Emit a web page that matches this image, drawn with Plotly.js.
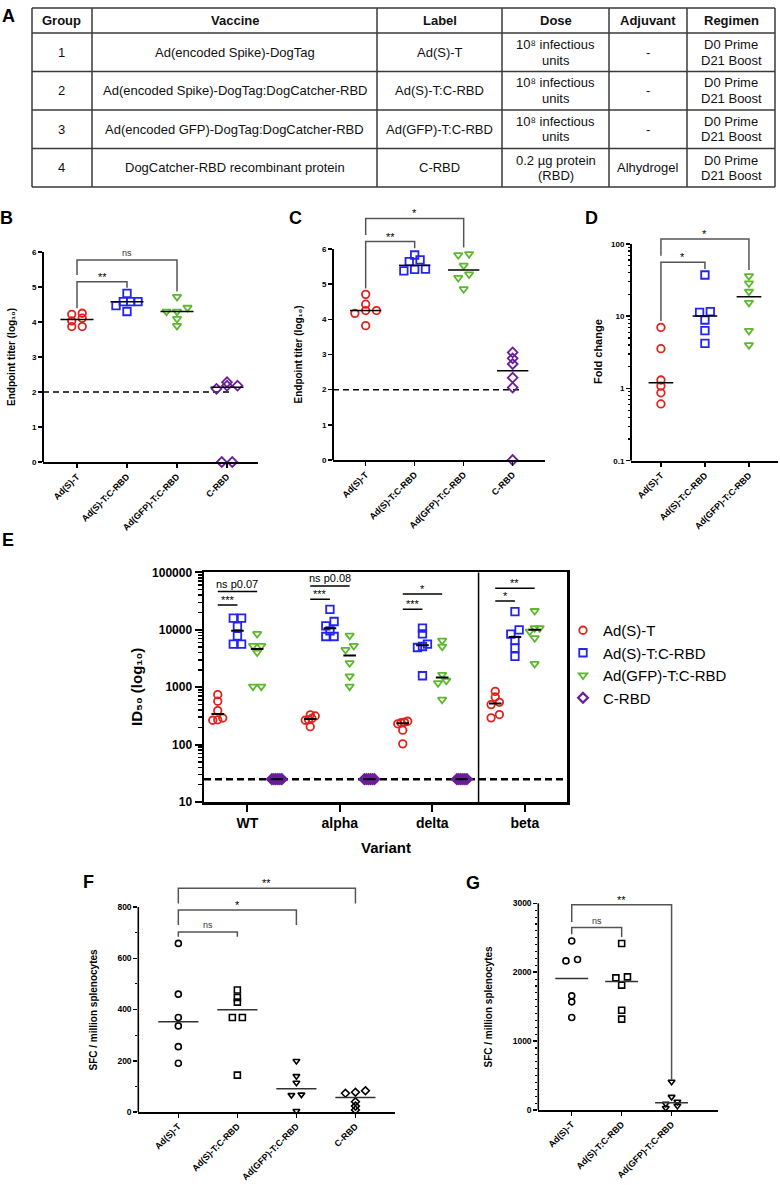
<!DOCTYPE html>
<html><head><meta charset="utf-8">
<script src="https://cdn.plot.ly/plotly-3.0.1.min.js"></script>
<style>html,body{margin:0;padding:0;background:#fff}#chart{width:780px;height:1185px}</style>
</head><body><div id="chart"></div>
<script>
// ================= DATA =================
// Table A
const tableHeader = ['Group','Vaccine','Label','Dose','Adjuvant','Regimen'];
const groupNo = ['1','2','3','4'];
const vaccine = ['Ad(encoded Spike)-DogTag','Ad(encoded Spike)-DogTag:DogCatcher-RBD','Ad(encoded GFP)-DogTag:DogCatcher-RBD','DogCatcher-RBD recombinant protein'];
const vaccineLabel = ['Ad(S)-T','Ad(S)-T:C-RBD','Ad(GFP)-T:C-RBD','C-RBD'];
const dose = ['10⁸ infectious<br>units','10⁸ infectious<br>units','10⁸ infectious<br>units','0.2 µg protein<br>(RBD)'];
const adjuvant = ['-','-','-','Alhydrogel'];
const regimen = ['D0 Prime<br>D21 Boost','D0 Prime<br>D21 Boost','D0 Prime<br>D21 Boost','D0 Prime<br>D21 Boost'];

// categories
const groups = ['Ad(S)-T','Ad(S)-T:C-RBD','Ad(GFP)-T:C-RBD','C-RBD'];
const variants = ['WT','alpha','delta','beta'];

// B: endpoint titer (log10)
const bAdST     = [4.11, 4.22, 4.25, 3.87, 3.87, 4.03];
const bAdSTCRBD = [4.82, 4.58, 4.58, 4.58, 4.47, 4.30];
const bAdGFP    = [4.72, 4.41, 4.30, 4.30, 4.09, 3.89];
const bCRBD     = [2.18, 2.18, 2.28, 2.09, 0, 0];
// C: endpoint titer (log10)
const cAdST     = [4.71, 4.43, 4.25, 4.25, 4.17, 3.82];
const cAdSTCRBD = [5.83, 5.69, 5.64, 5.43, 5.42, 5.38];
const cAdGFP    = [5.86, 5.83, 5.53, 5.28, 5.18, 4.86];
const cCRBD     = [3.06, 2.89, 2.73, 2.34, 2.06, 0];
// D: fold change
const dAdST     = [7.0, 3.55, 1.31, 1.08, 0.87, 0.61];
const dAdSTCRBD = [37.2, 11.6, 11.3, 8.86, 6.3, 4.22];
const dAdGFP    = [36, 28.5, 21.9, 15.4, 6.3, 4.0];
// E: ID50 per variant [WT, alpha, delta, beta]
const eAdST     = [[741,568,390,290,270,265],[330,315,285,270,265,205],[255,245,240,230,178,103],[845,676,545,497,333,292]];
const eAdSTCRBD = [[15900,15900,11400,7840,5630,5630],[22700,13900,11700,9550,7620,7620],[10700,8490,5630,5100,4900,1580],[20700,9960,8400,6500,4790,3430]];
const eAdGFP    = [[8490,5250,5250,4030,1030,1030],[7940,5250,4470,2630,1550,1030],[6500,5100,1650,1300,1180,607],[21300,10700,10700,9340,7150,2560]];
const eCRBD     = [[25,25,25,25,25,25],[25,25,25,25,25,25],[25,25,25,25,25,25],[]];
const eLOD = 25;
const eTickVals = [10,100,1000,10000,100000];
const eTickText = ['10','100','1000','10000','100000'];
// F: SFC / million splenocytes
const fAdST     = [658, 460, 369, 336, 255, 190];
const fAdSTCRBD = [476, 447, 429, 369, 369, 144];
const fAdGFP    = [199, 140, 114, 68, 66, 4];
const fCRBD     = [83, 77, 73, 40, 23, 8];
// G: SFC / million splenocytes
const gAdST     = [2454, 2184, 2164, 1657, 1570, 1343];
const gAdSTCRBD = [2416, 1932, 1918, 1812, 1449, 1319];
const gAdGFP    = [410, 190, 120, 90, 60, 30];

// ================= STYLE / LAYOUT =================
const W = 780, H = 1185;
const FONT = 'Liberation Sans, Arial, Helvetica, sans-serif';
const colors = ['#e3211c','#2424f2','#5db82e','#6a1d9c'];
const symbols = ['circle-open','square-open','triangle-down-open','diamond-open'];

const traces = [], shapes = [], annotations = [];
const layout = {
  width: W, height: H, margin: {l:0, r:0, t:0, b:0},
  paper_bgcolor: '#fff', plot_bgcolor: 'rgba(0,0,0,0)',
  font: {family: FONT, color: '#000', size: 10},
  showlegend: true,
  legend: {x: 563/W, y: 1-614/H, xanchor: 'left', yanchor: 'top', font: {size: 15, family: FONT, color:'#000'},
           bgcolor: 'rgba(0,0,0,0)', borderwidth: 0, tracegroupgap: 0},
  shapes, annotations
};

function ann(text, xpx, ypx, size, extra) {
  return Object.assign({xref:'paper', yref:'paper', x: xpx/W, y: 1-ypx/H, text, showarrow:false,
    xanchor:'center', yanchor:'middle', font:{size, color:'#000', family: FONT}}, extra || {});
}
function median(a){const s=[...a].sort((x,y)=>x-y);const n=s.length;return n%2?s[(n-1)/2]:(s[n/2-1]+s[n/2])/2;}
function logMinor(a,b){const r=[];for(let e=a;e<b;e++)for(let k=2;k<=9;k++)r.push(k*Math.pow(10,e));return r;}
function linMinor(step,max,major){const r=[];for(let v=step;v<max;v+=step) if(v%major) r.push(v);return r;}

// symmetric row-based scatter (GraphPad-like) offsets, in category units
function swarm(vals, yToPx, markerPx, stepPx, maxHalfPx, unitPx) {
  const idx = vals.map((v,i)=>i).sort((a,b)=>yToPx(vals[a])-yToPx(vals[b]));
  const off = new Array(vals.length).fill(0);
  let i = 0;
  while (i < idx.length) {
    const start = yToPx(vals[idx[i]]);
    let j = i+1;
    while (j < idx.length && Math.abs(yToPx(vals[idx[j]])-start) < 0.6*markerPx) j++;
    const n = j-i;
    if (n > 1) {
      const st = Math.min(stepPx, 2*maxHalfPx/(n-1));
      for (let k=0;k<n;k++) off[idx[i+k]] = (k-(n-1)/2)*st/unitPx;
    }
    i = j;
  }
  return off;
}

function buildPanel(p) {
  const xid = 'x'+p.n, yid = 'y'+p.n;
  const xd = [p.xpx[0]/W, p.xpx[1]/W];
  const yd = [1-p.ypx[0]/H, 1-p.ypx[1]/H];
  const unitPx = (p.xpx[1]-p.xpx[0])/(p.xr[1]-p.xr[0]);
  const ppu = (p.ypx[0]-p.ypx[1])/(p.yr[1]-p.yr[0]);
  const tr = v => p.log ? Math.log10(v) : v;
  const yToPx = v => tr(Math.max(v, 1e-9))*ppu;
  const tickFontX = {size: p.xFont, family: FONT, color:'#000', weight: 700};
  const tickFontY = {size: p.yFont, family: FONT, color:'#000', weight: 700};
  layout['xaxis'+p.n] = {domain: xd, range: p.xr, anchor: yid, tickmode:'array',
    tickvals: p.series.map((s,i)=>i), ticktext: groups.slice(0, p.series.length), tickangle: -45,
    ticks:'outside', ticklen: 4, tickwidth: 1.5, tickcolor:'#000', showline: true, linewidth: p.lw, linecolor:'#000',
    showgrid:false, zeroline:false, tickfont: tickFontX, fixedrange:true};
  const ya = {domain: yd, range: p.yr, anchor: xid, type: p.log ? 'log' : 'linear', tickmode:'array',
    tickvals: p.yt, ticktext: p.ytt || p.yt.map(String), ticks:'outside', ticklen: 4, tickwidth: 1.5, tickcolor:'#000',
    showline:false, showgrid:false, zeroline:false, tickfont: tickFontY, fixedrange:true};
  if (p.minor) ya.minor = {tickmode:'array', tickvals: p.minor, ticks:'outside', ticklen: 2.5, tickwidth: 1.2, tickcolor:'#000', showgrid:false};
  layout['yaxis'+p.n] = ya;
  // y axis line (stops at the top tick)
  shapes.push({type:'line', xref:'paper', yref: yid, x0: xd[0], x1: xd[0],
    y0: p.log ? Math.pow(10, p.yr[0]) : p.yr[0], y1: p.ytop, line:{color:'#000', width: p.lw}});
  // dashed limit line
  if (p.dash) traces.push({type:'scatter', mode:'lines', xaxis:xid, yaxis:yid, x:[p.xr[0], p.dash.x1], y:[p.dash.y, p.dash.y],
    line:{color:'#000', width:1.5, dash:'6px,4px'}, showlegend:false, hoverinfo:'skip'});
  // points
  const meds = [];
  p.series.forEach((vals, i) => {
    const col = p.mono ? '#000' : colors[i];
    const off = swarm(vals, yToPx, p.ms, p.step, p.maxHalf, unitPx);
    traces.push({type:'scatter', mode:'markers', xaxis:xid, yaxis:yid, x: vals.map((v,k)=>i+off[k]), y: vals,
      marker:{symbol: symbols[i], size: p.ms, color: col, line:{width: p.mlw, color: col}},
      cliponaxis:false, showlegend:false, hoverinfo:'skip'});
    const m = median(vals);
    meds.push({type:'scatter', mode:'lines', xaxis:xid, yaxis:yid, x:[i-p.medHalf, i+p.medHalf], y:[m, m],
      line:{color: p.medColor, width: 1.5}, showlegend:false, hoverinfo:'skip'});
  });
  meds.forEach(t => traces.push(t));
  // significance brackets
  p.br.forEach(b => {
    traces.push({type:'scatter', mode:'lines', xaxis:xid, yaxis:yid, x:[b.a, b.a, b.b, b.b], y:[b.da, b.y, b.y, b.db],
      line:{color:'#555', width:1.5}, showlegend:false, hoverinfo:'skip'});
    const isStar = b.t.indexOf('*') >= 0;
    const offPx = isStar ? 5 : 7;
    annotations.push({xref:xid, yref:yid, x:(b.a+b.b)/2, y: tr(b.y) + offPx/ppu, text: b.t, showarrow:false,
      xanchor:'center', yanchor:'middle', font:{size: isStar ? 11 : 9, color: isStar ? '#000' : '#333', family: FONT}});
  });
}

// ---- Panel B ----
buildPanel({n:'', xpx:[43,258], xr:[-0.68,3.62], ypx:[462,252], yr:[0,6], log:false, yt:[0,1,2,3,4,5,6], ytop:6,
  series:[bAdST,bAdSTCRBD,bAdGFP,bCRBD], ms:7.5, mlw:1.8, step:10.5, maxHalf:11, medHalf:0.33, medColor:'#000',
  lw:2, xFont:9, yFont:8, dash:{y:2, x1:3.05},
  br:[{a:0,b:2,y:5.77,da:5.34,db:4.87,t:'ns'},{a:0,b:1,y:5.15,da:4.39,db:4.98,t:'**'}]});
// ---- Panel C ----
buildPanel({n:2, xpx:[333,545], xr:[-0.667,3.66], ypx:[460,206.8], yr:[0,7.2], log:false, yt:[0,1,2,3,4,5,6], ytop:6,
  series:[cAdST,cAdSTCRBD,cAdGFP,cCRBD], ms:7.5, mlw:1.8, step:10.8, maxHalf:11, medHalf:0.32, medColor:'#000',
  lw:2, xFont:9, yFont:8, dash:{y:2, x1:3.19},
  br:[{a:0,b:2,y:6.87,da:6.40,db:6.04,t:'*'},{a:0,b:1,y:6.21,da:4.88,db:6.02,t:'**'}]});
// ---- Panel D ----
buildPanel({n:3, xpx:[631,778], xr:[-0.68,2.66], ypx:[460.7,225.9], yr:[-1,2.25], log:true,
  yt:[0.1,1,10,100], ytt:['0.1','1','10','100'], ytop:100, minor: logMinor(-1,2),
  series:[dAdST,dAdSTCRBD,dAdGFP], ms:7.5, mlw:1.8, step:10.7, maxHalf:11, medHalf:0.28, medColor:'#000',
  lw:2, xFont:9, yFont:8, dash:null,
  br:[{a:0,b:2,y:117,da:68.9,db:43.7,t:'*'},{a:0,b:1,y:55.8,da:8.57,db:45.1,t:'*'}]});
// ---- Panel F ----
buildPanel({n:5, xpx:[138.3,395], xr:[-0.678,3.67], ypx:[1112,881.4], yr:[0,900], log:false,
  yt:[0,200,400,600,800], ytop:800, minor: linMinor(100,800,200), mono:true,
  series:[fAdST,fAdSTCRBD,fAdGFP,fCRBD], ms:6, mlw:1.6, step:10, maxHalf:10, medHalf:0.34, medColor:'#333',
  lw:1.6, xFont:9, yFont:8.5, dash:null,
  br:[{a:0,b:3,y:873,da:814,db:814,t:'**'},{a:0,b:2,y:788,da:730,db:730,t:'*'},{a:0,b:1,y:703,da:684,db:684,t:'ns'}]});
// ---- Panel G ----
buildPanel({n:6, xpx:[538.3,718], xr:[-0.67,2.93], ypx:[1110,893], yr:[0,3150], log:false,
  yt:[0,1000,2000,3000], ytop:3000, minor: linMinor(100,3000,1000), mono:true,
  series:[gAdST,gAdSTCRBD,gAdGFP], ms:6, mlw:1.6, step:11.6, maxHalf:11, medHalf:0.33, medColor:'#333',
  lw:1.6, xFont:9, yFont:8.5, dash:null,
  br:[{a:0,b:2,y:2981,da:2729,db:435,t:'**'},{a:0,b:1,y:2648,da:2551,db:2512,t:'ns'}]});

// ---- Panel E (neutralisation by variant) ----
(function(){
  const xpx=[204,567], xr=[-0.468,3.456], ypx=[802,572.3], yr=[1,5];
  const xd=[xpx[0]/W, xpx[1]/W], yd=[1-ypx[0]/H, 1-ypx[1]/H];
  const unitPx=(xpx[1]-xpx[0])/(xr[1]-xr[0]);
  const ppu=(ypx[0]-ypx[1])/(yr[1]-yr[0]);
  const yToPx = v => Math.log10(v)*ppu;
  const gOff = [0,1,2,3].map(g => (g-1.5)*0.213);
  layout.xaxis4 = {domain:xd, range:xr, anchor:'y4', tickmode:'array', tickvals:[0,1,2,3], ticktext:variants,
    ticks:'outside', ticklen:7, tickwidth:2, tickcolor:'#000', showline:true, mirror:true, linewidth:2.5, linecolor:'#000',
    showgrid:false, zeroline:false, tickfont:{size:14, family:FONT, color:'#000', weight:700}, fixedrange:true};
  layout.yaxis4 = {domain:yd, range:yr, type:'log', anchor:'x4', tickmode:'array', tickvals:eTickVals, ticktext:eTickText,
    ticks:'outside', ticklen:7, tickwidth:2, tickcolor:'#000', showline:true, mirror:true, linewidth:2.5, linecolor:'#000',
    showgrid:false, zeroline:false, tickfont:{size:12, family:FONT, color:'#000', weight:700}, fixedrange:true,
    minor:{tickmode:'array', tickvals:logMinor(1,5), ticks:'outside', ticklen:4, tickwidth:1.5, tickcolor:'#000', showgrid:false}};
  // limit of detection
  traces.push({type:'scatter', mode:'lines', xaxis:'x4', yaxis:'y4', x:[xr[0], xr[1]], y:[eLOD, eLOD],
    line:{color:'#000', width:2.5, dash:'7px,4px'}, showlegend:false, hoverinfo:'skip'});
  // separator between delta and beta
  traces.push({type:'scatter', mode:'lines', xaxis:'x4', yaxis:'y4', x:[2.5, 2.5], y:[10, 100000],
    line:{color:'#000', width:1.5}, showlegend:false, hoverinfo:'skip'});
  const eSeries = [eAdST, eAdSTCRBD, eAdGFP, eCRBD];
  const medX = [], medY = [];
  eSeries.forEach((byVar, g) => {
    const xs = [], ys = [];
    byVar.forEach((vals, v) => {
      if (!vals.length) return;
      const off = swarm(vals, yToPx, 7.5, 8.3, 5, unitPx);
      vals.forEach((val, k) => { xs.push(v + gOff[g] + off[k]); ys.push(val); });
      const m = median(vals);
      medX.push(v+gOff[g]-0.068, v+gOff[g]+0.068, null); medY.push(m, m, null);
    });
    traces.push({type:'scatter', mode:'markers', name: groups[g], xaxis:'x4', yaxis:'y4', x:xs, y:ys,
      marker:{symbol:symbols[g], size:7.5, color:colors[g], line:{width: g===3 ? 2.2 : 1.8, color:colors[g]}},
      cliponaxis:false, showlegend:true, hoverinfo:'skip'});
  });
  traces.push({type:'scatter', mode:'lines', xaxis:'x4', yaxis:'y4', x:medX, y:medY,
    line:{color:'#000', width:2}, showlegend:false, hoverinfo:'skip'});
  const eBr = [
    {v:0,b:2,y:46100,t:'ns p0.07'},{v:0,b:1,y:27000,t:'***'},
    {v:1,b:2,y:57800,t:'ns p0.08'},{v:1,b:1,y:34000,t:'***'},
    {v:2,b:2,y:42000,t:'*'},{v:2,b:1,y:22700,t:'***'},
    {v:3,b:2,y:52700,t:'**'},{v:3,b:1,y:31600,t:'*'}];
  eBr.forEach(b => {
    const x0 = b.v + gOff[0], x1 = b.v + gOff[b.b];
    traces.push({type:'scatter', mode:'lines', xaxis:'x4', yaxis:'y4', x:[x0, x1], y:[b.y, b.y],
      line:{color:'#000', width:1.5}, showlegend:false, hoverinfo:'skip'});
    const isStar = b.t.indexOf('*') === 0;
    annotations.push({xref:'x4', yref:'y4', x:(x0+x1)/2, y: Math.log10(b.y) + (isStar ? 5 : 7.5)/ppu, text:b.t,
      showarrow:false, xanchor:'center', yanchor:'middle', font:{size:11, color:'#000', family:FONT}});
  });
})();

// ---- Axis titles & panel letters ----
annotations.push(ann('Endpoint titer (log₁₀)', 11, 357, 10, {textangle:-90, font:{size:10, color:'#000', family:FONT, weight:700}}));
annotations.push(ann('Endpoint titer (log₁₀)', 298, 354.5, 10, {textangle:-90, font:{size:10, color:'#000', family:FONT, weight:700}}));
annotations.push(ann('Fold change', 598, 352, 11, {textangle:-90, font:{size:11, color:'#000', family:FONT, weight:700}}));
annotations.push(ann('ID₅₀ (log₁₀)', 136, 687, 15, {textangle:-90, font:{size:15, color:'#000', family:FONT, weight:700}}));
annotations.push(ann('Variant', 385.5, 847, 15, {font:{size:15, color:'#000', family:FONT, weight:700}}));
annotations.push(ann('SFC / million splenocytes', 93, 1009.5, 10, {textangle:-90, font:{size:10, color:'#000', family:FONT, weight:700}}));
annotations.push(ann('SFC / million splenocytes', 488, 1006.5, 10, {textangle:-90, font:{size:10, color:'#000', family:FONT, weight:700}}));
[['A',8,16],['B',7,218],['C',295,218],['D',591,218],['E',8,540],['F',88,882],['G',473,883]].forEach(l => {
  annotations.push(ann(l[0], l[1], l[2], 18, {font:{size:18, color:'#000', family:FONT, weight:700}}));
});

// ---- Table A ----
const colX = [32, 92, 377, 502, 609, 687, 775];
const rowY = [8, 33, 71.5, 110, 148.5, 187];
colX.forEach(x => shapes.push({type:'line', xref:'paper', yref:'paper', x0:x/W, x1:x/W, y0:1-rowY[0]/H, y1:1-rowY[rowY.length-1]/H, line:{color:'#3a3a3a', width:1.5}}));
rowY.forEach(y => shapes.push({type:'line', xref:'paper', yref:'paper', x0:colX[0]/W, x1:colX[colX.length-1]/W, y0:1-y/H, y1:1-y/H, line:{color:'#3a3a3a', width:1.5}}));
function cellText(text, c, r, isHead) {
  const cx = (colX[c]+colX[c+1])/2, cy = (rowY[r]+rowY[r+1])/2;
  const lines = text.split('<br>');
  lines.forEach((ln, k) => {
    annotations.push(ann(ln, cx, cy + (k-(lines.length-1)/2)*15.5, 13,
      {font:{size:13, color:'#111', family:FONT, weight: isHead ? 700 : 400}}));
  });
}
tableHeader.forEach((h, c) => cellText(h, c, 0, true));
const tableCols = [groupNo, vaccine, vaccineLabel, dose, adjuvant, regimen];
tableCols.forEach((col, c) => col.forEach((t, r) => cellText(t, c, r+1, false)));

Plotly.newPlot('chart', traces, layout, {displayModeBar:false, staticPlot:true});
</script>
</body></html>
